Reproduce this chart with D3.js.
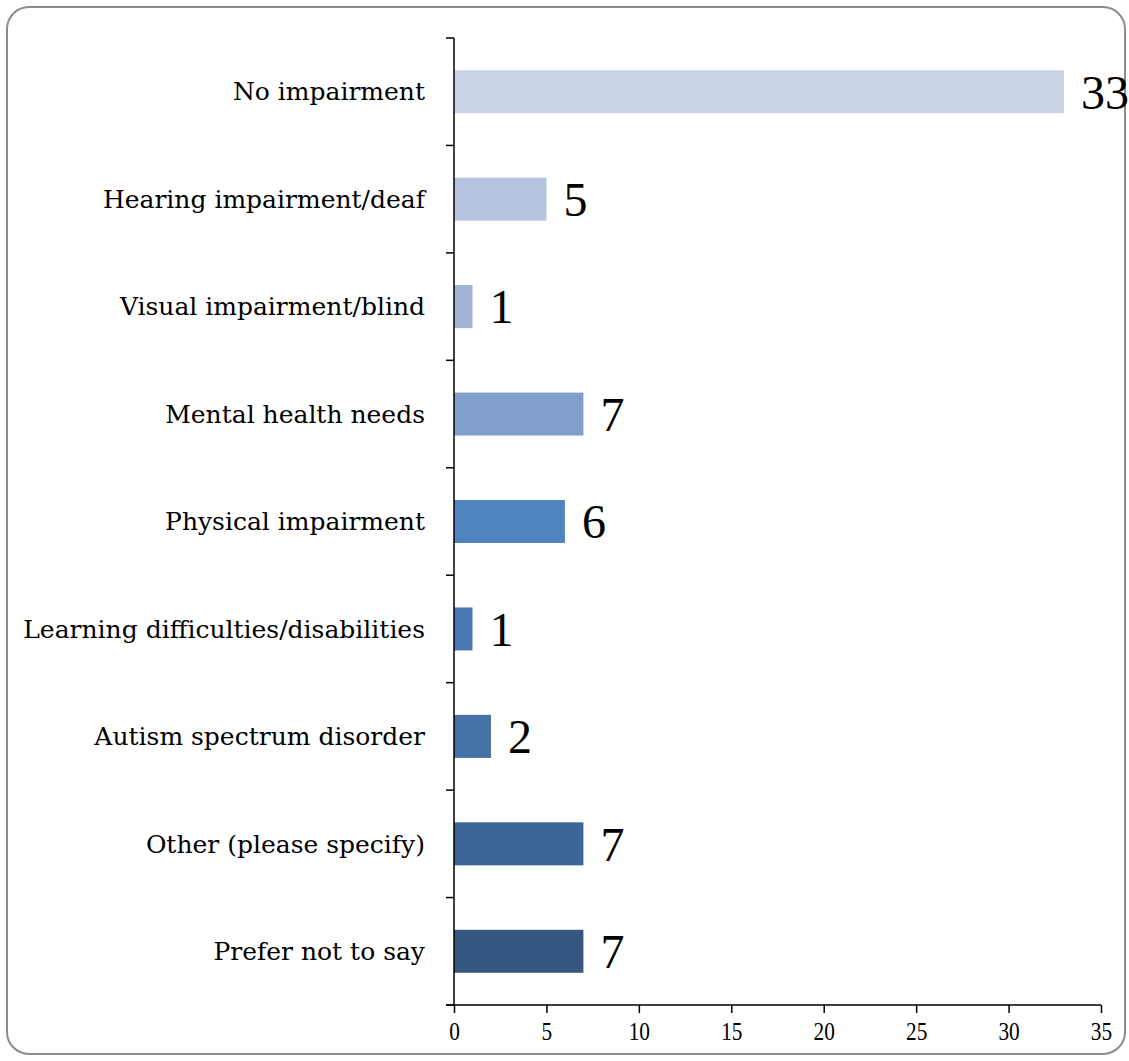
<html>
<meta charset="utf-8">
<style type="text/css">
  body { margin: 0; background: #fff; }
  text { font-family: "Liberation Serif", "DejaVu Serif", serif; }
</style>
<body>
<script src="https://d3js.org/d3.v7.min.js"></script>
<div id="chart"></div>
<script>
  const categories = [
    "No impairment",
    "Hearing impairment/deaf",
    "Visual impairment/blind",
    "Mental health needs",
    "Physical impairment",
    "Learning difficulties/disabilities",
    "Autism spectrum disorder",
    "Other (please specify)",
    "Prefer not to say"
  ];
  const counts = [33, 5, 1, 7, 6, 1, 2, 7, 7];
  const barColors = ["#cbd4e6", "#b6c4df", "#a0b3d6", "#819fcb", "#4f84c1",
                     "#4a78b3", "#4571a6", "#3d6595", "#36577f"];
  const xTicks = [0, 5, 10, 15, 20, 25, 30, 35];

  const width = 1129, height = 1061;
  const margin = {top: 38, left: 454, right: 28, bottom: 56};

  const svg = d3.select("#chart").append("svg")
    .attr("width", width)
    .attr("height", height);

  // rounded frame
  svg.append("rect")
    .attr("x", 7).attr("y", 7)
    .attr("width", 1118).attr("height", 1047)
    .attr("rx", 22).attr("ry", 22)
    .style("fill", "none")
    .style("stroke", "#8c8c8c")
    .style("stroke-width", 2);

  const x = d3.scaleLinear()
    .domain([0, 35])
    .range([margin.left, width - margin.right]);

  const y = d3.scaleBand()
    .domain(categories)
    .range([margin.top, height - margin.bottom])
    .paddingInner(0.6)
    .paddingOuter(0.3);

  // bars
  svg.selectAll("rect.bar")
    .data(categories)
    .enter()
    .append("rect")
    .attr("class", "bar")
    .attr("x", x(0))
    .attr("y", d => y(d))
    .attr("width", (d, i) => x(counts[i]) - x(0))
    .attr("height", y.bandwidth())
    .style("fill", (d, i) => barColors[i]);

  // value labels
  svg.selectAll("text.val")
    .data(categories)
    .enter()
    .append("text")
    .attr("class", "val")
    .attr("x", (d, i) => x(counts[i]) + 17)
    .attr("y", d => y(d) + y.bandwidth() / 2)
    .attr("dy", "0.35em")
    .style("font-size", "48px")
    .text((d, i) => counts[i]);

  // category axis with ticks between bands
  const yBottom = height - margin.bottom;
  const step = (yBottom - margin.top) / categories.length;
  const yAxis = svg.append("g");
  yAxis.append("line")
    .attr("x1", x(0)).attr("x2", x(0))
    .attr("y1", margin.top).attr("y2", yBottom)
    .style("stroke", "#000").style("stroke-width", 1.5);
  yAxis.selectAll("line.tick")
    .data(d3.range(categories.length + 1))
    .enter()
    .append("line")
    .attr("x1", x(0) - 8).attr("x2", x(0))
    .attr("y1", i => margin.top + i * step)
    .attr("y2", i => margin.top + i * step)
    .style("stroke", "#000").style("stroke-width", 1.5);
  yAxis.selectAll("text")
    .data(categories)
    .enter()
    .append("text")
    .attr("x", x(0) - 29)
    .attr("y", d => y(d) + y.bandwidth() / 2)
    .attr("dy", "0.35em")
    .attr("text-anchor", "end")
    .style("font-family", "'DejaVu Serif', serif")
    .style("font-size", "25px")
    .text(d => d);

  // value axis
  const xAxis = svg.append("g")
    .attr("transform", `translate(0,${yBottom})`)
    .call(d3.axisBottom(x).tickValues(xTicks).tickSize(8).tickPadding(9));
  xAxis.select(".domain").attr("d", `M${x(0) - 8},0H${x(35)}`).style("stroke-width", 1.5);
  xAxis.selectAll(".tick line").style("stroke-width", 1.5);
  xAxis.selectAll("text")
    .attr("transform", "scale(0.82,1)")
    .style("font-family", "'Liberation Serif', serif")
    .style("font-size", "26px");
</script>
</body>
</html>
